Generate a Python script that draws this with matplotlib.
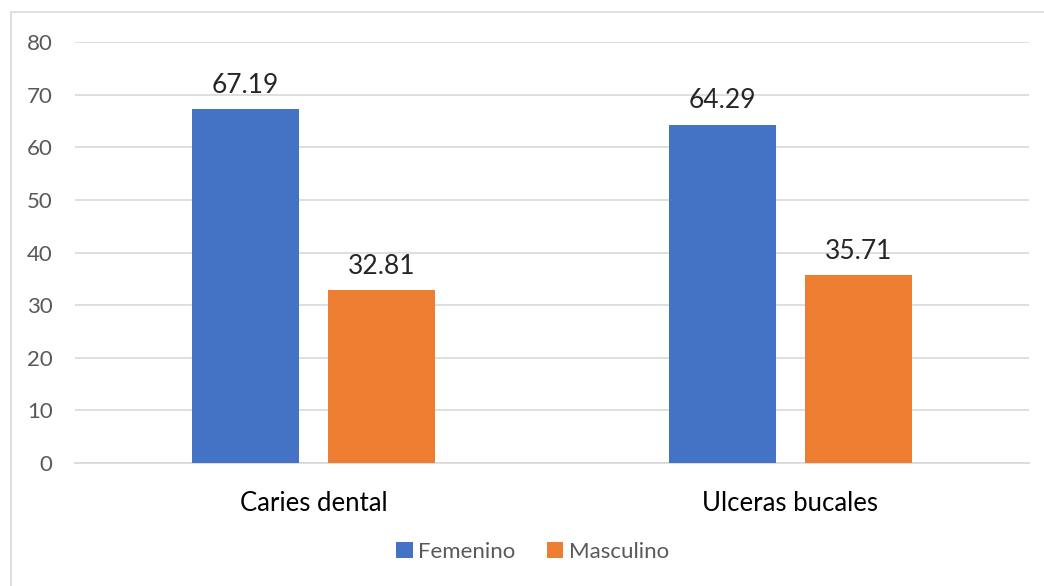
import numpy as np
import matplotlib.pyplot as plt
from matplotlib.patches import Rectangle

categorias = ['Caries dental', 'Ulceras bucales']
femenino = [67.19, 64.29]
masculino = [32.81, 35.71]
series = ['Femenino', 'Masculino']
colores = ['#4472C4', '#ED7D31']

plt.rcParams['font.family'] = ['Lato', 'DejaVu Sans']
gris = '#595959'

fig = plt.figure(figsize=(10.44, 5.86), dpi=100)
ax = fig.add_axes([0.0718, 0.2099, 0.9138, 0.7184])

# marco exterior del gráfico
fig.patches.append(Rectangle((11 / 1044, -0.1), 1.1, 1 - 12 / 586 + 0.1,
                             transform=fig.transFigure, fill=False,
                             edgecolor='#D9D9D9', linewidth=1.2))

x = np.arange(len(categorias))
ancho = 0.224
desp = 0.1426
b1 = ax.bar(x - desp, femenino, ancho, color=colores[0], label=series[0], zorder=3)
b2 = ax.bar(x + desp, masculino, ancho, color=colores[1], label=series[1], zorder=3)

for barras in (b1, b2):
    for b in barras:
        h = b.get_height()
        ax.text(b.get_x() + b.get_width() / 2, h + 2.2, f'{h:.2f}',
                ha='center', va='bottom', fontsize=19, color='#262626')

ax.set_xlim(-0.5, 1.5)
ax.set_ylim(0, 80)
ax.set_yticks(range(0, 81, 10))
ax.set_xticks(x)
ax.set_xticklabels(categorias, fontsize=18.5, color='#000000')
ax.tick_params(axis='y', labelsize=16, labelcolor=gris, length=0, pad=16)
ax.tick_params(axis='x', length=0, pad=20)
ax.grid(axis='y', color='#D9D9D9', linewidth=1.2, zorder=0)
for s in ['top', 'right', 'left']:
    ax.spines[s].set_visible(False)
ax.spines['bottom'].set_color('#D9D9D9')
ax.spines['bottom'].set_linewidth(1.2)

fig.legend(loc='center', bbox_to_anchor=(0.51, 1 - 552 / 586), ncol=2,
           frameon=False, fontsize=16, labelcolor=gris, handlelength=0.75,
           handleheight=0.75, handletextpad=0.25, columnspacing=1.4)

plt.savefig('out.png', dpi=100)
plt.close()
